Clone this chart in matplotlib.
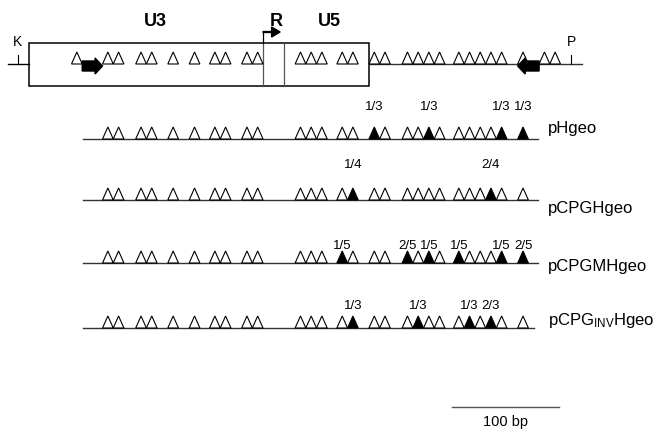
import matplotlib
matplotlib.use("Agg")
import matplotlib.pyplot as plt
from matplotlib.patches import Polygon, Rectangle, FancyArrow

plt.rcParams["font.family"] = ["Liberation Sans", "DejaVu Sans"]
plt.rcParams["mathtext.fontset"] = "custom"
plt.rcParams["mathtext.rm"] = "Liberation Sans"
plt.rcParams["mathtext.it"] = "Liberation Sans"

# CpG positions (bp, K site = 0)
sites = [84, 94, 115, 125, 145, 165, 184, 194, 214, 224,
         264, 274, 284, 303, 313, 333, 343, 364, 374, 384, 394,
         412, 422, 432, 442, 452, 472, 492, 502]
primer_site = 55          # only on the provirus map
insert_end = 472          # last CpG carried by the constructs

# LTR features (bp)
k_site, p_site = 0, 517
ltr_start, r_start, r_end, ltr_end = 10, 229, 249, 328
map_start, map_end = -9, 527
fwd_primer = (60, 79)
rev_primer = (487, 467)

constructs = ["pHgeo", "pCPGHgeo", "pCPGMHgeo", r"pCPG$_{\mathrm{INV}}$Hgeo"]
insert_starts = [61, 61, 61, 61]
insert_ends = [486, 486, 486, 482]
meth_sites = [
    [333, 384, 452, 472],
    [313, 442],
    [303, 364, 384, 412, 452, 472],
    [313, 374, 422, 442],
]
meth_labels = [
    ["1/3", "1/3", "1/3", "1/3"],
    ["1/4", "2/4"],
    ["1/5", "2/5", "1/5", "1/5", "1/5", "2/5"],
    ["1/3", "1/3", "1/3", "2/3"],
]
scale_bar = (406, 506)

# vertical layout (pixels from top)
top_y = 64
row_y = [139, 200, 263, 328]
frac_y = [107, 165, 246, 306]
name_y = [129, 209, 267, 320]
tri_w, tri_h = 10, 12

px_per_bp = 1.07
fig = plt.figure(figsize=(6.59, 4.33), dpi=100)
ax = fig.add_axes([0, 0, 1, 1])
ax.set_xlim(-18 / px_per_bp, (659 - 18) / px_per_bp)
ax.set_ylim(433, 0)
ax.axis("off")


def cpg(x, y, filled=False):
    tri = Polygon([(x - tri_w / 2, y), (x, y - tri_h), (x + tri_w / 2, y)],
                  closed=True, facecolor="black" if filled else "white",
                  edgecolor="black", lw=0.8, zorder=3)
    ax.add_patch(tri)


# provirus map
ax.plot([map_start, ltr_start], [top_y, top_y], color="black", lw=1)
ax.plot([ltr_end, map_end], [top_y, top_y], color="#333333", lw=1)
ax.add_patch(Rectangle((ltr_start, 43), ltr_end - ltr_start, 43,
                       fill=False, edgecolor="black", lw=1.1))
for xr in (r_start, r_end):
    ax.plot([xr, xr], [43, 86], color="#555555", lw=0.9)
for xs, lab in ((k_site, "K"), (p_site, "P")):
    ax.plot([xs, xs], [55, top_y], color="black", lw=0.8)
    ax.text(xs, 42, lab, ha="center", va="center", fontsize=10)
ax.text(128, 22, "U3", ha="center", va="center", fontsize=13, fontweight="bold")
ax.text(291, 22, "U5", ha="center", va="center", fontsize=13, fontweight="bold")
ax.text(241, 21, "R", ha="center", va="center", fontsize=13, fontweight="bold")
ax.plot([r_start, r_start], [43, 32], color="black", lw=0.9)
ax.add_patch(FancyArrow(r_start, 32, 16, 0, width=0.9, head_width=10,
                        head_length=8, length_includes_head=True,
                        color="black", zorder=4))

for s in [primer_site] + sites:
    cpg(s, top_y)
for x0, x1 in (fwd_primer, rev_primer):
    ax.add_patch(FancyArrow(x0, 66, x1 - x0, 0, width=10, head_width=16,
                            head_length=7, length_includes_head=True,
                            color="black", zorder=4))

# constructs
for i, name in enumerate(constructs):
    y = row_y[i]
    ax.plot([insert_starts[i], insert_ends[i]], [y, y], color="#333333", lw=1)
    for s in sites:
        if s <= insert_end:
            cpg(s, y, filled=s in meth_sites[i])
    for s, lab in zip(meth_sites[i], meth_labels[i]):
        ax.text(s, frac_y[i], lab, ha="center", va="center", fontsize=9.5)
    ax.text(495, name_y[i], name, ha="left", va="center", fontsize=12)

# scale bar
ax.plot(list(scale_bar), [407, 407], color="#555555", lw=1)
ax.text(sum(scale_bar) / 2, 422, "100 bp", ha="center", va="center", fontsize=10.5)

fig.savefig("out.png", dpi=100)
